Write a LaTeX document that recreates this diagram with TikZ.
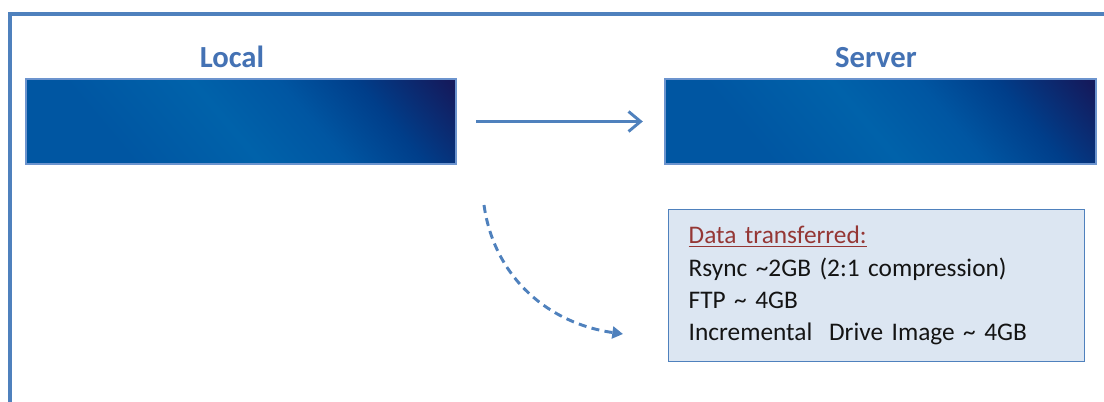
\documentclass[tikz,border=0pt]{standalone}
\usepackage{fontspec}
\setmainfont{Carlito}
\usetikzlibrary{arrows.meta}

\definecolor{frameblue}{RGB}{79,129,189}
\definecolor{boxedge}{RGB}{108,148,206}
\definecolor{boxlight}{RGB}{0,86,162}
\definecolor{boxmid}{RGB}{0,98,170}
\definecolor{boxdeep}{RGB}{0,62,138}
\definecolor{boxdark}{RGB}{20,26,92}
\definecolor{titleblue}{RGB}{68,114,180}
\definecolor{infofill}{RGB}{220,230,242}
\definecolor{datared}{RGB}{149,55,53}
\definecolor{textblack}{RGB}{20,20,20}

\pgfdeclarehorizontalshading{boxshade}{100bp}{color(0bp)=(boxlight); color(30bp)=(boxlight);
  color(48bp)=(boxmid); color(60bp)=(boxlight); color(71bp)=(boxdeep); color(84bp)=(boxdark);
  color(100bp)=(boxdark)}

\begin{document}
\begin{tikzpicture}[x=.75pt,y=-.75pt,
    bluebox/.style={draw=boxedge,line width=1.5pt,inner sep=0pt,
      minimum width=323pt,minimum height=64pt,shading=boxshade,shading angle=40},
    title/.style={anchor=base,text=titleblue,font=\fontsize{23}{28}\selectfont\bfseries},
    infobox/.style={draw=frameblue,line width=1.1pt,fill=infofill,anchor=north west,
      text width=282pt,inner xsep=15pt,minimum height=114pt,align=left,
      text=textblack,font=\fontsize{19}{24.3}\selectfont},
    flow/.style={frameblue,line width=2.2pt,-{Straight Barb[length=9pt,width=15pt]}},
    dashflow/.style={frameblue,line width=2.2pt,dash pattern=on 6pt off 4pt,
      -{Triangle[length=8pt,width=9pt]}}]
    \clip (0,0) rectangle (1104,401);

    %% outer frame
    \draw[frameblue,line width=2.4pt] (10,420) -- (10,14) -- (1120,14);

    %% titles
    \node (localtitle) at (232,67) [title] {Local};
    \node (servertitle) at (876,67) [title] {Server};

    %% boxes
    \node (local) at (241,121.5) [bluebox] {};
    \node (server) at (880.5,121.5) [bluebox] {};

    \draw[flow,shorten <=14pt,shorten >=16pt] (local) -- (server);

    %% transfer sizes
    \node (info) at (668,209) [infobox] {%
      \textcolor{datared}{\underline{Data transferred:}}\\
      Rsync \textasciitilde2GB (2:1 compression)\\
      FTP \textasciitilde\ 4GB\\
      Incremental\ \ Drive Image \textasciitilde\ 4GB};

    \coordinate (dstart) at (484,205);
    \coordinate (dend) at (623,334);
    \draw[dashflow] (dstart) to[out=-82,in=172] (dend);
\end{tikzpicture}
\end{document}
